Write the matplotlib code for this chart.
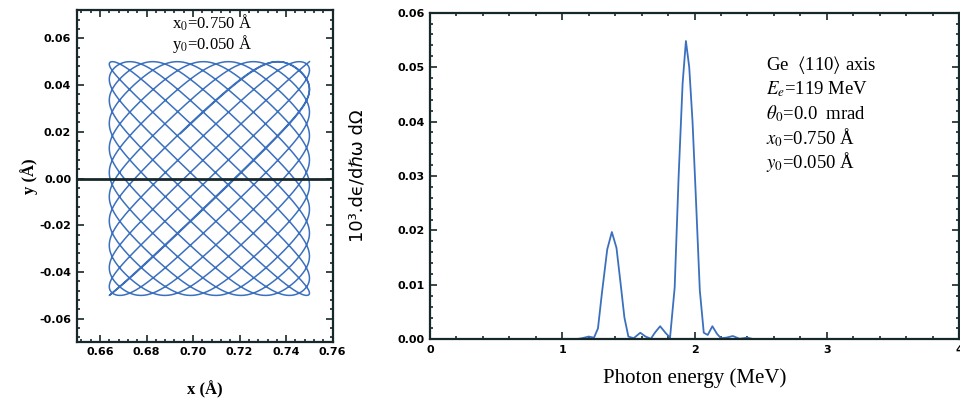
import numpy as np
import matplotlib.pyplot as plt
from matplotlib.ticker import MultipleLocator, FormatStrFormatter

plt.rcParams['mathtext.fontset'] = 'stix'

# channeling trajectory: turning points and number of oscillations in x and y
x_turn = [0.664, 0.750]
y_turn = [-0.050, 0.050]
osc_counts = [12.31, 10.17]
wall_sharpness = 0.94

# radiation spectrum, photon energy (MeV) and 10^3 dE/dhw dOmega
energy = [1.00, 1.10, 1.15, 1.20, 1.24, 1.27, 1.30, 1.34, 1.375, 1.41, 1.44, 1.47,
          1.50, 1.54, 1.59, 1.63, 1.67, 1.70, 1.74, 1.78, 1.815, 1.85, 1.88, 1.91,
          1.935, 1.96, 1.985, 2.01, 2.04, 2.07, 2.10, 2.135, 2.17, 2.20, 2.24, 2.29,
          2.34, 2.40, 2.45, 2.55]
intensity = [0.0, 0.0, 0.0002, 0.0005, 0.0003, 0.0020, 0.0085, 0.0165, 0.0197, 0.0168,
             0.0105, 0.0040, 0.0005, 0.0002, 0.0012, 0.0005, 0.0001, 0.0012, 0.0024,
             0.0012, 0.0003, 0.0095, 0.0300, 0.0470, 0.0548, 0.0500, 0.0400, 0.0262,
             0.0090, 0.0012, 0.0008, 0.0024, 0.0010, 0.0002, 0.0003, 0.0006, 0.0001,
             0.0003, 0.0, 0.0]

blue = '#3b70bf'
dark = '#17282a'

fig = plt.figure(figsize=(9.6, 4.08), dpi=100)
ax1 = fig.add_axes([0.0799, 0.1625, 0.2667, 0.8130])
ax2 = fig.add_axes([0.4479, 0.1684, 0.5511, 0.8005])


def swing(phase):
    # oscillation between the walls of the channel: nearly straight runs,
    # turning smoothly at the walls
    return np.arcsin(wall_sharpness * np.cos(phase)) / np.arcsin(wall_sharpness)


# trajectory x(t), y(t) starting at (x0, y0)
s = np.linspace(0, 1, 8000)
xc = 0.5 * (x_turn[0] + x_turn[1])
ax_amp = 0.5 * (x_turn[1] - x_turn[0])
ay_amp = 0.5 * (y_turn[1] - y_turn[0])
xt = xc + ax_amp * swing(2 * np.pi * osc_counts[0] * s)
yt = ay_amp * swing(2 * np.pi * osc_counts[1] * s)
ax1.plot(xt, yt, color=blue, lw=1.1)
ax1.axhline(0.0, color=dark, lw=2.0)

ax1.set_xlim(0.65, 0.76)
ax1.set_ylim(-0.0698, 0.0721)
ax1.xaxis.set_major_locator(MultipleLocator(0.02))
ax1.xaxis.set_minor_locator(MultipleLocator(0.004))
ax1.yaxis.set_major_locator(MultipleLocator(0.02))
ax1.yaxis.set_minor_locator(MultipleLocator(0.004))
ax1.xaxis.set_major_formatter(FormatStrFormatter('%.2f'))
ax1.yaxis.set_major_formatter(FormatStrFormatter('%.2f'))
ax1.set_xlabel('x (Å)', family='Liberation Serif', fontsize=12, fontweight='bold',
               labelpad=17)
ax1.set_ylabel('y (Å)', family='Liberation Serif', fontsize=12, fontweight='bold',
               labelpad=1)
ax1.text(0.708, 0.0665, r'x$_0$=0.750 Å', ha='center', va='center',
         family='Liberation Serif', fontsize=12)
ax1.text(0.708, 0.0575, r'y$_0$=0.050 Å', ha='center', va='center',
         family='Liberation Serif', fontsize=12)

ax2.plot(energy, intensity, color=blue, lw=1.3)
ax2.set_xlim(0, 4)
ax2.set_ylim(0, 0.06)
ax2.xaxis.set_major_locator(MultipleLocator(1))
ax2.xaxis.set_minor_locator(MultipleLocator(0.2))
ax2.yaxis.set_major_locator(MultipleLocator(0.01))
ax2.yaxis.set_minor_locator(MultipleLocator(0.002))
ax2.yaxis.set_major_formatter(FormatStrFormatter('%.2f'))
ax2.set_xlabel('Photon energy (MeV)', family='Liberation Serif', fontsize=15,
               labelpad=10)
ax2.set_ylabel('10³.dϵ/dℏω dΩ', family='DejaVu Sans', fontsize=13, labelpad=22)

info = ['Ge  $\\langle$110$\\rangle$ axis', '$E_e$=119 MeV', '$\\theta_0$=0.0  mrad',
        '$x_0$=0.750 Å', '$y_0$=0.050 Å']
for i, line in enumerate(info):
    ax2.text(0.635, 0.840 - i * 0.074, line, transform=ax2.transAxes, ha='left',
             va='center', family='Liberation Serif', fontsize=13.5)

for ax in (ax1, ax2):
    for sp in ax.spines.values():
        sp.set_linewidth(1.6)
        sp.set_color(dark)
    ax.tick_params(which='both', direction='in', top=True, right=True,
                   color=dark, width=1.2)
    ax.tick_params(which='major', length=5, labelsize=8, pad=4)
    ax.tick_params(which='minor', length=2.5)
    for lab in ax.get_xticklabels() + ax.get_yticklabels():
        lab.set_fontweight('bold')
        lab.set_family('DejaVu Sans')

fig.savefig('out.png', dpi=100)
